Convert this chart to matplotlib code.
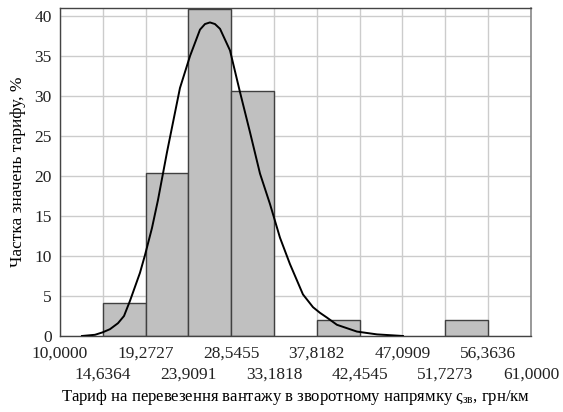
import matplotlib
matplotlib.use("Agg")
import matplotlib.pyplot as plt

plt.rcParams['font.family'] = ['Liberation Serif', 'DejaVu Serif']
plt.rcParams['mathtext.fontset'] = 'custom'
plt.rcParams['mathtext.rm'] = 'Liberation Serif'
plt.rcParams['mathtext.it'] = 'Liberation Serif:italic'

# bin edges (tick labels) and share of values per bin, %
edges = [10.0, 14.6364, 19.2727, 23.9091, 28.5455, 33.1818, 37.8182,
         42.4545, 47.0909, 51.7273, 56.3636, 61.0]
edge_labels = ['10,0000', '14,6364', '19,2727', '23,9091', '28,5455', '33,1818',
               '37,8182', '42,4545', '47,0909', '51,7273', '56,3636', '61,0000']
shares = [0, 4.08, 20.41, 40.82, 30.61, 0, 2.04, 0, 0, 2.04, 0]

# theoretical curve
curve_x = [12.38, 13.79, 14.60, 15.41, 16.28, 16.93, 17.58, 18.66, 19.20, 19.96,
           20.61, 21.59, 22.99, 24.08, 25.16, 25.70, 26.24, 26.78, 27.33, 28.41,
           29.49, 30.57, 31.66, 32.74, 33.82, 34.90, 36.31, 37.40, 38.15, 38.91,
           39.99, 42.16, 44.33, 47.14]
curve_y = [0.0, 0.15, 0.45, 0.85, 1.6, 2.5, 4.4, 7.9, 10.1, 13.5,
           17.0, 23.0, 31.0, 35.0, 38.3, 39.0, 39.2, 39.0, 38.4, 35.7,
           30.5, 25.5, 20.3, 16.5, 12.3, 9.0, 5.2, 3.6, 2.9, 2.3,
           1.4, 0.55, 0.2, 0.0]

fig = plt.figure(figsize=(5.63, 4.12), dpi=100)
ax = fig.add_axes([0.1066, 0.1845, 0.8364, 0.796])

widths = [edges[i + 1] - edges[i] for i in range(len(shares))]
for i, h in enumerate(shares):
    if h > 0:
        ax.bar(edges[i], h, width=widths[i], align='edge', color='#c0c0c0',
               edgecolor='#404040', linewidth=1.0, zorder=2)

ax.plot(curve_x, curve_y, color='black', lw=1.4, zorder=3)

ax.set_xlim(edges[0], edges[-1])
ax.set_ylim(0, 41)
ax.set_yticks(range(0, 41, 5))
# labels alternate between two rows
ax.set_xticks(edges[0::2])
ax.set_xticklabels(edge_labels[0::2])
ax.set_xticks(edges[1::2], minor=True)
ax.set_xticklabels(edge_labels[1::2], minor=True)
ax.tick_params(axis='both', which='both', length=0, labelsize=12.5, colors='#222222')
ax.tick_params(axis='x', which='major', pad=7)
ax.tick_params(axis='x', which='minor', pad=22)
ax.tick_params(axis='y', pad=6)

ax.grid(True, which='both', color='#cccccc', lw=1.0, zorder=0)
ax.set_axisbelow(True)
for side in ['left', 'bottom', 'top']:
    ax.spines[side].set_color('#444444')
    ax.spines[side].set_linewidth(1.0)
ax.spines['right'].set_color('#888888')
ax.spines['right'].set_linewidth(1.2)

ax.set_ylabel('Частка значень тарифу, %', fontsize=12.5, labelpad=6)
ax.set_xlabel('Тариф на перевезення вантажу в зворотному напрямку '
              r'$\mathrm{ς}_{\mathrm{зв}}$, грн/км', fontsize=12, labelpad=3)

fig.savefig('out.png', dpi=100)
